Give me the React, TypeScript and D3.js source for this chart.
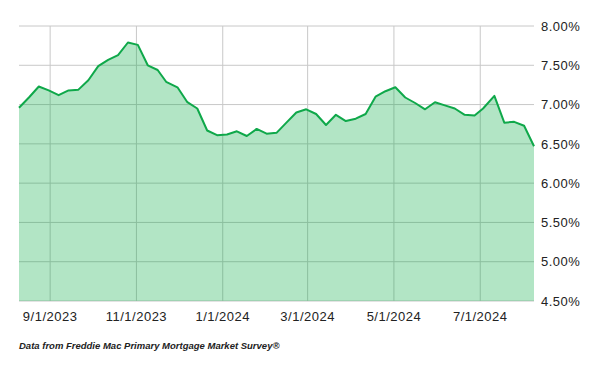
import React from "react";
import * as d3 from "d3";

const dates: string[] = [
  "2023-08-10","2023-08-17","2023-08-24","2023-08-31","2023-09-07","2023-09-14","2023-09-21","2023-09-28",
  "2023-10-05","2023-10-12","2023-10-19","2023-10-26","2023-11-02","2023-11-09","2023-11-16","2023-11-22",
  "2023-11-30","2023-12-07","2023-12-14","2023-12-21","2023-12-28","2024-01-04","2024-01-11","2024-01-18",
  "2024-01-25","2024-02-01","2024-02-08","2024-02-15","2024-02-22","2024-02-29","2024-03-07","2024-03-14",
  "2024-03-21","2024-03-28","2024-04-04","2024-04-11","2024-04-18","2024-04-25","2024-05-02","2024-05-09",
  "2024-05-16","2024-05-23","2024-05-30","2024-06-06","2024-06-13","2024-06-20","2024-06-27","2024-07-03",
  "2024-07-11","2024-07-18","2024-07-25","2024-08-01","2024-08-08"
];

const rates: number[] = [
  6.96, 7.09, 7.23, 7.18, 7.12, 7.18, 7.19, 7.31,
  7.49, 7.57, 7.63, 7.79, 7.76, 7.50, 7.44, 7.29,
  7.22, 7.03, 6.95, 6.67, 6.61, 6.62, 6.66, 6.60,
  6.69, 6.63, 6.64, 6.77, 6.90, 6.94, 6.88, 6.74,
  6.87, 6.79, 6.82, 6.88, 7.10, 7.17, 7.22, 7.09,
  7.02, 6.94, 7.03, 6.99, 6.95, 6.87, 6.86, 6.95,
  7.11, 6.77, 6.78, 6.73, 6.47
];

const xTicks: string[] = ["2023-09-01","2023-11-01","2024-01-01","2024-03-01","2024-05-01","2024-07-01"];
const yTicks: number[] = [4.5, 5.0, 5.5, 6.0, 6.5, 7.0, 7.5, 8.0];
const footer = "Data from Freddie Mac Primary Mortgage Market Survey®";

const parse = d3.utcParse("%Y-%m-%d");
const fmtDate = d3.utcFormat("%-m/%-d/%Y");

export default function App() {
  const W = 600, H = 371;
  const left = 19, right = 534, top = 26, bottom = 301;
  const data = dates.map((d, i) => ({ date: parse(d) as Date, v: rates[i] }));
  const x = d3.scaleUtc()
    .domain([data[0].date, data[data.length - 1].date])
    .range([left, right]);
  const y = d3.scaleLinear().domain([4.5, 8]).range([bottom, top]);
  const area = d3.area<{ date: Date; v: number }>()
    .x(d => x(d.date)).y0(y(4.5)).y1(d => y(d.v));
  const line = d3.line<{ date: Date; v: number }>()
    .x(d => x(d.date)).y(d => y(d.v));
  const font = "'Liberation Sans', Arial, sans-serif";
  return (
    <svg width={W} height={H} style={{ position: "absolute", left: 0, top: 0, background: "#fff" }}>
      {yTicks.map(t => (
        <line key={"h" + t} x1={left} x2={right} y1={y(t)} y2={y(t)} stroke="#c8c8c8" strokeWidth={1} />
      ))}
      {xTicks.map(t => (
        <line key={"v" + t} x1={x(parse(t) as Date)} x2={x(parse(t) as Date)} y1={top} y2={bottom} stroke="#c8c8c8" strokeWidth={1} />
      ))}
      <path d={area(data) || ""} fill="rgb(0,168,64)" fillOpacity={0.3} />
      <path d={line(data) || ""} fill="none" stroke="#0fa84a" strokeWidth={2} strokeLinejoin="round" />
      {yTicks.map(t => (
        <text key={"yl" + t} x={541} y={y(t)} dy="0.36em" fontFamily={font} fontSize={13} letterSpacing={0.5} fill="#222">
          {d3.format(".2f")(t) + "%"}
        </text>
      ))}
      {xTicks.map(t => (
        <text key={"xl" + t} x={x(parse(t) as Date)} y={321} textAnchor="middle" fontFamily={font} fontSize={13} letterSpacing={0.5} fill="#222">
          {fmtDate(parse(t) as Date)}
        </text>
      ))}
      <text x={19} y={349} fontFamily={font} fontSize={9.5} fontStyle="italic" fontWeight="bold" fill="#222">
        {footer}
      </text>
    </svg>
  );
}
